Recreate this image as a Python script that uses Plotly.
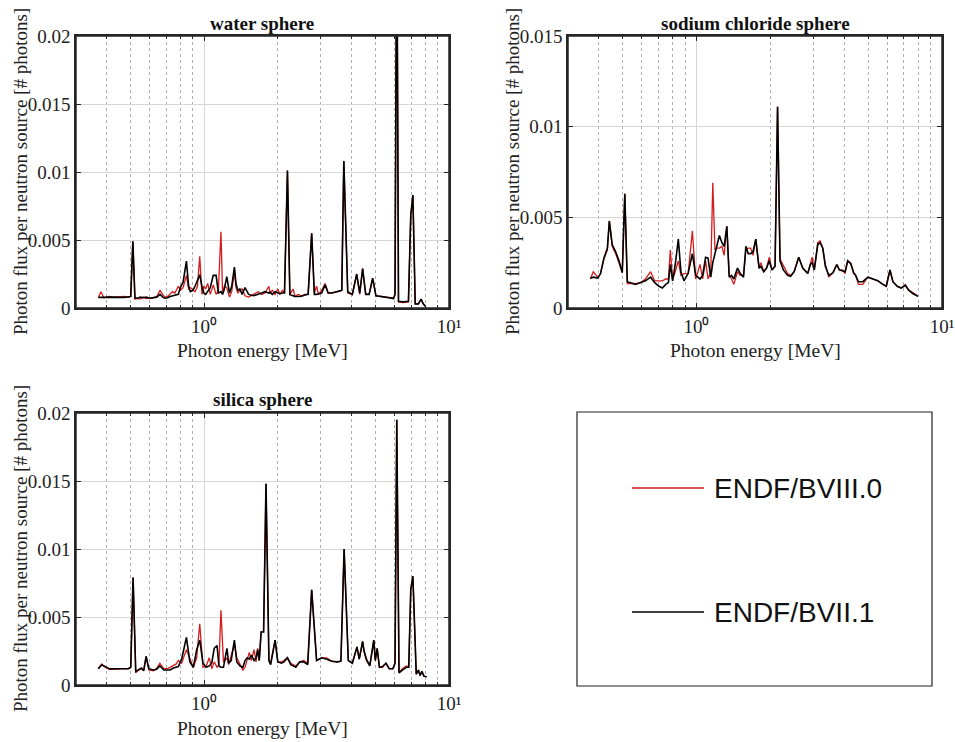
import math
import plotly.graph_objects as go

# ---------------- data (values in units of 1e-3 photons) ----------------
water_energy = [
    0.37, 0.379, 0.39, 0.41, 0.43, 0.45, 0.47, 0.491, 0.502, 0.512,
    0.522, 0.535, 0.55, 0.565, 0.58, 0.60, 0.62, 0.641, 0.661, 0.68,
    0.693, 0.71, 0.727, 0.743, 0.76, 0.785, 0.80, 0.821, 0.847, 0.865,
    0.879, 0.90, 0.919, 0.94, 0.96, 0.98, 0.997, 1.015, 1.035, 1.06,
    1.09, 1.12, 1.144, 1.172, 1.19, 1.21, 1.238, 1.27, 1.297, 1.33,
    1.35, 1.373, 1.40, 1.43, 1.47, 1.52, 1.59, 1.665, 1.72, 1.77,
    1.84, 1.86, 1.90, 1.95, 2.0, 2.04, 2.09, 2.13, 2.19, 2.24,
    2.31, 2.35, 2.42, 2.50, 2.58, 2.66, 2.75, 2.82, 2.88, 2.93,
    3.02, 3.12, 3.21, 3.32, 3.53, 3.65, 3.72, 3.86, 4.03, 4.2,
    4.32, 4.44, 4.57, 4.72, 4.88, 5.03, 5.5, 5.94, 6.02, 6.12,
    6.22, 6.5, 6.83, 6.98, 7.12, 7.28, 7.5, 7.69, 7.85, 8.04,
]
water_b71 = [
    0.78, 0.80, 0.78, 0.80, 0.78, 0.80, 0.78, 0.82, 0.85, 4.9,
    0.75, 0.72, 0.80, 0.75, 0.80, 0.72, 0.78, 0.80, 1.0, 0.78,
    0.72, 0.75, 0.85, 0.90, 0.95, 1.0, 1.5, 1.9, 3.45, 1.6,
    1.2, 1.3, 1.6, 2.0, 2.45, 1.6, 1.1, 1.0, 1.2, 1.5,
    2.4, 2.4, 1.1, 1.2, 1.0, 1.4, 2.3, 1.1, 1.6, 3.0,
    1.8, 1.3, 1.4, 1.0, 1.5, 1.0, 0.9, 1.0, 1.1, 1.2,
    1.1, 1.15, 1.0, 1.2, 1.1, 1.05, 1.1, 1.1, 10.1, 0.98,
    0.9, 0.85, 0.85, 0.86, 0.95, 1.0, 5.5, 1.0, 1.0, 1.05,
    1.1, 1.7, 1.1, 1.1, 1.2, 1.3, 10.8, 1.2, 1.0, 2.5,
    1.1, 2.9, 1.0, 1.0, 2.2, 0.9, 0.8, 0.7, 1.0, 30.0,
    0.5, 0.45, 0.5, 6.8, 8.3, 0.3, 0.3, 0.65, 0.3, 0.1,
]
water_b80 = [
    0.75, 1.2, 0.75, 0.85, 0.8, 0.85, 0.85, 0.8, 0.85, 4.9,
    0.65, 0.7, 0.65, 0.8, 0.7, 0.75, 0.75, 0.85, 1.3, 0.95,
    0.8, 0.85, 1.0, 1.2, 1.1, 1.6, 1.3, 1.5, 2.4, 1.4,
    1.5, 1.3, 1.2, 1.6, 3.8, 1.0, 1.6, 1.4, 1.8, 1.0,
    1.7, 1.0, 1.3, 5.6, 1.1, 1.6, 1.5, 0.8, 1.2, 2.7,
    1.5, 1.1, 1.3, 1.4, 0.9, 0.8, 1.0, 1.2, 1.0, 1.1,
    1.6, 1.1, 1.3, 1.0, 1.4, 1.0, 1.3, 1.1, 10.1, 1.0,
    1.4, 0.85, 1.0, 0.9, 1.0, 1.0, 5.5, 1.1, 1.6, 1.0,
    1.3, 1.8, 1.1, 1.1, 1.2, 1.3, 10.8, 1.1, 1.0, 2.5,
    1.0, 2.9, 1.0, 1.0, 2.2, 0.9, 0.8, 0.75, 1.0, 30.0,
    0.45, 0.4, 0.45, 6.8, 8.3, 0.3, 0.3, 0.65, 0.3, 0.1,
]

nacl_energy = [
    0.37, 0.38, 0.397, 0.407, 0.42, 0.434, 0.442, 0.454, 0.469, 0.484,
    0.499, 0.511, 0.523, 0.54, 0.565, 0.593, 0.62, 0.651, 0.676, 0.704,
    0.727, 0.75, 0.769, 0.783, 0.80, 0.82, 0.844, 0.865, 0.89, 0.925,
    0.963, 0.993, 1.035, 1.06, 1.09, 1.115, 1.144, 1.166, 1.19, 1.21,
    1.24, 1.27, 1.297, 1.33, 1.36, 1.39, 1.42, 1.47, 1.51, 1.555,
    1.59, 1.625, 1.664, 1.70, 1.745, 1.80, 1.83, 1.88, 1.93, 1.98,
    2.03, 2.09, 2.14, 2.19, 2.26, 2.35, 2.42, 2.5, 2.61, 2.71,
    2.84, 2.91, 2.96, 3.02, 3.12, 3.19, 3.27, 3.35, 3.46, 3.6,
    3.73, 3.82, 3.94, 4.03, 4.13, 4.25, 4.37, 4.45, 4.57, 4.76,
    4.99, 5.23, 5.48, 5.75, 5.93, 6.14, 6.31, 6.57, 6.82, 7.09,
    7.3, 7.6, 7.98,
]
nacl_b71 = [
    1.64, 1.7, 1.65, 1.9, 2.75, 3.3, 4.8, 3.5, 3.1, 2.6,
    1.95, 6.3, 1.45, 1.4, 1.3, 1.4, 1.5, 1.7, 1.4, 1.2,
    1.1, 1.3, 1.4, 2.4, 1.5, 2.4, 3.8, 2.0, 1.5, 1.9,
    3.0, 1.8, 1.6, 1.8, 2.8, 2.75, 1.7, 2.5, 3.0, 3.5,
    4.0, 3.6, 3.4, 4.5, 1.7, 1.8, 1.6, 2.2, 1.9, 1.7,
    3.4, 3.0, 3.0, 3.1, 3.8, 2.2, 2.3, 2.0, 2.2, 2.6,
    2.1, 2.3, 11.1, 2.6, 2.1, 1.8, 1.75, 2.0, 2.8, 2.2,
    1.9, 2.4, 2.5, 2.1, 3.5, 3.6, 3.3, 2.3, 1.8, 1.95,
    2.4, 2.1, 2.05, 2.0, 2.6, 2.45, 1.95, 1.8, 1.45, 1.45,
    1.7, 1.6, 1.5, 1.3, 1.2, 2.1, 1.45, 1.2, 1.1, 1.25,
    1.0, 0.8, 0.65,
]
nacl_b80 = [
    1.6, 2.0, 1.7, 1.9, 2.7, 3.2, 4.8, 3.4, 3.0, 2.5,
    1.95, 6.3, 1.35, 1.35, 1.35, 1.4, 1.6, 2.0, 1.5, 1.5,
    1.5, 1.6, 1.6, 3.2, 1.6, 2.0, 2.6, 1.8, 1.9, 1.9,
    4.25, 1.6, 2.4, 1.6, 2.6, 1.6, 2.0, 6.9, 3.2, 3.3,
    3.3, 3.4, 2.9, 4.5, 1.8, 1.6, 1.3, 2.0, 1.8, 1.8,
    3.2, 3.3, 3.3, 2.9, 3.8, 2.2, 2.5, 2.0, 2.2, 2.8,
    2.1, 2.3, 11.1, 2.7, 2.3, 1.9, 1.8, 2.0, 2.8, 2.2,
    1.9, 2.5, 2.8, 2.1, 3.6, 3.7, 3.3, 2.4, 1.7, 1.95,
    2.4, 2.1, 2.1, 1.9, 2.6, 2.45, 1.9, 1.8, 1.3, 1.3,
    1.7, 1.6, 1.5, 1.3, 1.2, 2.1, 1.45, 1.2, 1.1, 1.3,
    1.0, 0.85, 0.65,
]

silica_energy = [
    0.37, 0.382, 0.395, 0.41, 0.43, 0.45, 0.47, 0.491, 0.502, 0.513,
    0.526, 0.54, 0.555, 0.567, 0.58, 0.595, 0.62, 0.64, 0.66, 0.685,
    0.71, 0.727, 0.75, 0.77, 0.785, 0.81, 0.847, 0.875, 0.904, 0.933,
    0.96, 0.99, 1.02, 1.05, 1.075, 1.10, 1.13, 1.15, 1.172, 1.20,
    1.24, 1.26, 1.29, 1.33, 1.36, 1.40, 1.44, 1.47, 1.50, 1.53,
    1.56, 1.60, 1.63, 1.655, 1.68, 1.71, 1.75, 1.79, 1.84, 1.87,
    1.95, 2.0, 2.07, 2.12, 2.19, 2.26, 2.37, 2.46, 2.55, 2.65,
    2.75, 2.88, 3.02, 3.17, 3.32, 3.5, 3.62, 3.73, 3.88, 4.03,
    4.21, 4.3, 4.44, 4.5, 4.6, 4.75, 4.93, 5.0, 5.09, 5.2,
    5.35, 5.53, 5.7, 5.9, 6.02, 6.12, 6.25, 6.45, 6.7, 6.85,
    6.98, 7.12, 7.35, 7.5, 7.62, 7.75, 7.9, 8.1,
]
silica_b71 = [
    1.2, 1.47, 1.35, 1.2, 1.2, 1.2, 1.2, 1.2, 1.3, 7.9,
    1.0, 1.15, 1.25, 1.05, 2.1, 1.2, 1.1, 1.15, 1.4, 1.1,
    1.1, 1.1, 1.25, 1.3, 1.35, 1.9, 3.5, 1.7, 1.3, 2.6,
    3.3, 1.6, 1.3, 1.4, 1.6, 2.7, 2.9, 1.4, 1.3, 1.3,
    2.7, 1.6, 1.8, 3.3, 1.7, 1.4, 1.3, 1.8, 2.0, 1.9,
    2.2, 1.8, 2.0, 2.6, 1.8, 3.9, 3.9, 14.8, 1.8, 1.5,
    3.3, 1.7, 1.6, 1.7, 2.0, 1.5, 1.3, 1.7, 1.7, 1.5,
    7.0, 1.8, 2.0, 1.9, 1.75, 1.7, 1.75, 10.0, 1.8, 1.6,
    2.8, 1.9, 3.2, 2.5, 1.9, 1.4, 3.3, 1.8, 2.7, 1.3,
    1.35, 1.6, 1.2, 1.2, 1.6, 19.5, 0.9, 1.1, 1.3, 1.3,
    7.0, 8.0, 0.8, 1.1, 0.7, 1.0, 0.65, 0.6,
]
silica_b80 = [
    1.2, 1.55, 1.3, 1.15, 1.15, 1.2, 1.2, 1.2, 1.3, 7.9,
    0.9, 1.1, 1.2, 1.05, 2.1, 1.1, 1.05, 1.2, 1.6, 1.2,
    1.2, 1.3, 1.45, 1.55, 1.8, 1.6, 2.6, 1.9, 1.3, 2.0,
    4.5, 1.3, 1.4, 2.0, 1.2, 1.7, 1.3, 1.5, 5.5, 1.7,
    2.0, 1.5, 2.1, 3.0, 2.0, 1.6, 1.1, 1.3, 1.9, 2.4,
    1.8, 2.6, 1.7, 2.7, 1.8, 3.9, 3.9, 14.8, 1.8, 1.6,
    3.3, 1.7, 1.7, 1.8, 2.0, 1.6, 1.4, 1.7, 1.8, 1.6,
    7.0, 1.8, 2.0, 2.0, 1.75, 1.7, 1.75, 10.0, 1.8, 1.6,
    2.8, 1.9, 3.2, 2.5, 1.8, 1.4, 3.3, 1.8, 2.7, 1.3,
    1.3, 1.6, 1.2, 1.2, 1.6, 19.5, 0.9, 1.2, 1.4, 1.35,
    7.0, 8.0, 0.8, 1.1, 0.7, 1.0, 0.65, 0.6,
]

panel_titles = ["water sphere", "sodium chloride sphere", "silica sphere"]
series_names = ["ENDF/BVIII.0", "ENDF/BVII.1"]
x_tick_vals = [1, 10]
x_tick_text = ["10\u2070", "10\u00b9"]
minor_vals = [0.3, 0.4, 0.5, 0.6, 0.7, 0.8, 0.9, 2, 3, 4, 5, 6, 7, 8, 9]
y_ticks_02 = [0, 0.005, 0.01, 0.015, 0.02]
y_ticks_015 = [0, 0.005, 0.01, 0.015]
x_title = "Photon energy [MeV]"
y_title = "Photon flux per neutron source [# photons]"

# ---------------- figure ----------------
W, H = 955, 742
SERIF = "Liberation Serif, Times New Roman, serif"
SANS = "Liberation Sans, Arial, sans-serif"
RED = "#d41c1c"
BLACK = "#000000"
AX = "#262626"


def px(x):
    return x / W


def py(y):
    return 1 - y / H


fig = go.Figure()

panels = [
    ("x", "y", water_energy, water_b80, water_b71),
    ("x2", "y2", nacl_energy, nacl_b80, nacl_b71),
    ("x3", "y3", silica_energy, silica_b80, silica_b71),
]
for xa, ya, e, r, b in panels:
    fig.add_trace(go.Scatter(x=e, y=[v * 1e-3 for v in r], mode="lines",
                             line=dict(color=RED, width=1.3), xaxis=xa, yaxis=ya,
                             name=series_names[0], showlegend=False))
    fig.add_trace(go.Scatter(x=e, y=[v * 1e-3 for v in b], mode="lines",
                             line=dict(color=BLACK, width=1.6), xaxis=xa, yaxis=ya,
                             name=series_names[1], showlegend=False))


def xaxis_cfg(x0, x1, anchor):
    return dict(
        type="log", range=[math.log10(0.3), 1], domain=[px(x0), px(x1)], anchor=anchor,
        tickmode="array", tickvals=x_tick_vals, ticktext=x_tick_text,
        ticks="inside", ticklen=5, tickcolor=AX,
        showline=True, linecolor=AX, linewidth=1.5, mirror="ticks",
        showgrid=True, gridcolor="#d6d6d6", zeroline=False,
        automargin=False,
        tickfont=dict(family=SERIF, size=19, color="#222"),
        minor=dict(tickmode="array", tickvals=minor_vals, ticks="inside", ticklen=3,
                   tickcolor=AX, showgrid=True, gridcolor="#b0b0b0", griddash="dot"),
    )


def yaxis_cfg(y0, y1, anchor, top, ticks):
    return dict(
        range=[0, top], domain=[py(y1), py(y0)], anchor=anchor,
        tickmode="array", tickvals=ticks, ticktext=[("%g" % t) for t in ticks],
        ticks="inside", ticklen=5, tickcolor=AX,
        showline=True, linecolor=AX, linewidth=1.5, mirror="ticks",
        showgrid=True, gridcolor="#d6d6d6", zeroline=False,
        automargin=False,
        tickfont=dict(family=SERIF, size=19, color="#222"),
    )


fig.update_layout(
    template="none",
    width=W, height=H, margin=dict(l=0, r=0, t=0, b=0),
    paper_bgcolor="white", plot_bgcolor="white", showlegend=False,
    xaxis=xaxis_cfg(76, 449, "y"),
    yaxis=yaxis_cfg(36, 308, "x", 0.02, y_ticks_02),
    xaxis2=xaxis_cfg(568, 942, "y2"),
    yaxis2=yaxis_cfg(36, 308, "x2", 0.015, y_ticks_015),
    xaxis3=xaxis_cfg(76, 449, "y3"),
    yaxis3=yaxis_cfg(413, 685, "x3", 0.02, y_ticks_02),
)

ann = []
for t, cx, cy in [(panel_titles[0], 262, 23), (panel_titles[1], 755, 23), (panel_titles[2], 262, 400)]:
    ann.append(dict(text="<b>%s</b>" % t, x=px(cx), y=py(cy), xref="paper", yref="paper",
                    showarrow=False, xanchor="center", yanchor="middle",
                    font=dict(family=SERIF, size=19, color="#111")))
for cx, cy in [(262, 350), (755, 350), (262, 728)]:
    ann.append(dict(text=x_title, x=px(cx), y=py(cy), xref="paper", yref="paper",
                    showarrow=False, xanchor="center", yanchor="middle",
                    font=dict(family=SERIF, size=19.5, color="#222")))
for cx, cy in [(20, 172), (512, 172), (20, 549)]:
    ann.append(dict(text=y_title, x=px(cx), y=py(cy), xref="paper", yref="paper",
                    showarrow=False, xanchor="center", yanchor="middle", textangle=-90,
                    font=dict(family=SERIF, size=19, color="#222")))
for name, cy in [(series_names[0], 488), (series_names[1], 612)]:
    ann.append(dict(text=name, x=px(712), y=py(cy), xref="paper", yref="paper",
                    showarrow=False, xanchor="left", yanchor="middle",
                    font=dict(family=SANS, size=28, color="#111")))

shapes = []
# axes frames (drawn in each subplot's own domain)
for xa, ya in [("x", "y"), ("x2", "y2"), ("x3", "y3")]:
    shapes.append(dict(type="rect", xref=xa + " domain", yref=ya + " domain", x0=0, x1=1, y0=0, y1=1,
                       line=dict(color=AX, width=1.5), fillcolor="rgba(0,0,0,0)", layer="above"))
shapes += [
    dict(type="rect", xref="paper", yref="paper", x0=px(577), x1=px(932), y0=py(686), y1=py(412),
         line=dict(color="#222", width=1.2), fillcolor="rgba(0,0,0,0)"),
    dict(type="line", xref="paper", yref="paper", x0=px(632), x1=px(704), y0=py(488), y1=py(488),
         line=dict(color=RED, width=1.5)),
    dict(type="line", xref="paper", yref="paper", x0=px(632), x1=px(704), y0=py(612), y1=py(612),
         line=dict(color=BLACK, width=1.5)),
]
fig.update_layout(annotations=ann, shapes=shapes)

fig.write_html("out.html")
